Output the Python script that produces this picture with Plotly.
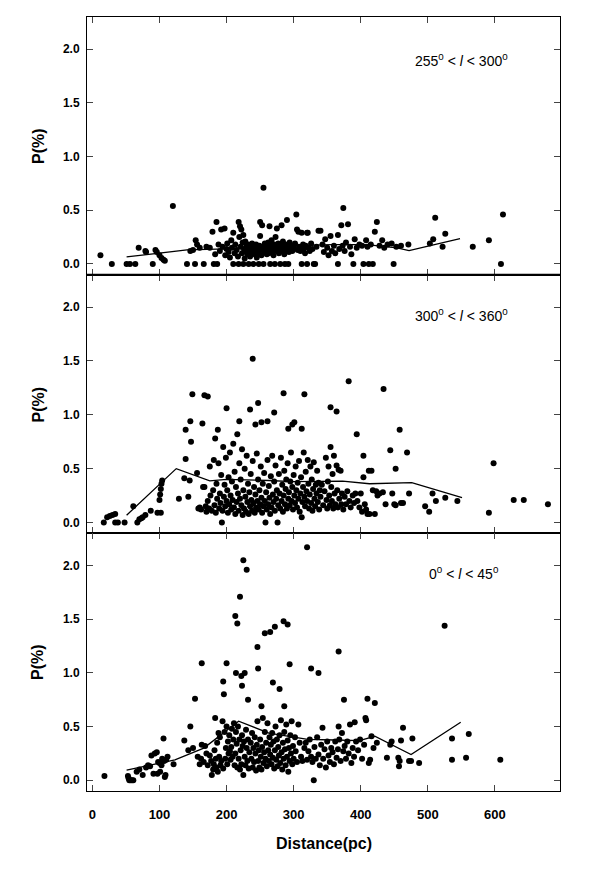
"""
Polarization vs distance in three longitude bins, stacked panels
"""
import plotly.graph_objects as go
from plotly.subplots import make_subplots

# --- data: (distance pc, P %) ---
pts_255_300 = [
    (12, 0.08), (29, 0), (51, 0), (56, 0), (64, 0), (69, 0.15), (79, 0.12), (80, 0.11), (90, 0), (94, 0.13),
    (96, 0.11), (100, 0.08), (103, 0.055), (106, 0.04), (108, 0.03), (120, 0.54), (141, 0), (146, 0.12), (150, 0.13), (153, 0),
    (154, 0.22), (156, 0.18), (160, 0.15), (166, 0), (170, 0.16), (175, 0.15), (179, 0.30), (181, 0), (183, 0.09), (185, 0.39),
    (186, 0), (188, 0.18), (190, 0.12), (192, 0.32), (194, 0.16), (197, 0.33), (198, 0.08), (200, 0.14), (201, 0.19), (203, 0.11),
    (205, 0.06), (207, 0.22), (208, 0.15), (210, 0.29), (210, 0), (212, 0.10), (213, 0.18), (215, 0.13), (217, 0.07), (218, 0.39),
    (218, 0), (219, 0.25), (220, 0.35), (221, 0.16), (222, 0.32), (223, 0.10), (224, 0.20), (225, 0.27), (225, 0), (226, 0.14),
    (227, 0.05), (228, 0.21), (229, 0.12), (230, 0.17), (231, 0.09), (232, 0.18), (233, 0), (234, 0.13), (235, 0.07), (236, 0.15),
    (237, 0.11), (238, 0.19), (239, 0.14), (240, 0), (241, 0.16), (242, 0.09), (243, 0.12), (244, 0.18), (245, 0.06), (246, 0.14),
    (247, 0.10), (248, 0), (249, 0.17), (250, 0.39), (250, 0.26), (251, 0.13), (252, 0.08), (253, 0.36), (254, 0.15), (255, 0),
    (255, 0.71), (256, 0.11), (257, 0.19), (258, 0.12), (259, 0.16), (260, 0.09), (261, 0.14), (262, 0.20), (263, 0.10), (264, 0.35),
    (265, 0), (265, 0.13), (266, 0.17), (267, 0.22), (268, 0.11), (269, 0.15), (270, 0.08), (271, 0.18), (272, 0), (272, 0.13),
    (273, 0.25), (274, 0.16), (275, 0.33), (276, 0.12), (277, 0.19), (278, 0.10), (279, 0.14), (280, 0), (281, 0.17), (282, 0.36),
    (283, 0.12), (284, 0.21), (285, 0.15), (286, 0.09), (287, 0), (288, 0.18), (289, 0.13), (290, 0.41), (291, 0.16), (292, 0),
    (293, 0.11), (294, 0.20), (295, 0.14), (296, 0.17), (298, 0.12), (300, 0.15), (302, 0.19), (304, 0.46), (305, 0.32), (306, 0.13),
    (307, 0.30), (308, 0.16), (310, 0.12), (312, 0.29), (312, 0), (314, 0.18), (315, 0.14), (317, 0.10), (318, 0.17), (320, 0.29),
    (320, 0), (321, 0.29), (322, 0.15), (324, 0.12), (326, 0.19), (328, 0.14), (330, 0), (332, 0), (334, 0.16), (337, 0.31),
    (340, 0.31), (343, 0.18), (345, 0.11), (347, 0.23), (350, 0.15), (352, 0.08), (355, 0.26), (357, 0.12), (360, 0.17), (362, 0.10),
    (366, 0.27), (366, 0), (368, 0.14), (371, 0.36), (373, 0.17), (374, 0.52), (376, 0.12), (378, 0.20), (381, 0.37), (384, 0.16),
    (386, 0.09), (389, 0), (391, 0.23), (394, 0.15), (398, 0.18), (402, 0.17), (404, 0), (408, 0.22), (410, 0.16), (412, 0),
    (415, 0.18), (418, 0), (421, 0.30), (424, 0.39), (428, 0.17), (432, 0.22), (435, 0.15), (440, 0.18), (446, 0.19), (449, 0),
    (453, 0.16), (460, 0.17), (471, 0.18), (503, 0.19), (508, 0.23), (511, 0.43), (522, 0.16), (526, 0.28), (567, 0.16), (591, 0.22),
    (609, 0), (612, 0.46),
]

pts_300_360 = [
    (17, 0), (22, 0.05), (26, 0.06), (30, 0.07), (34, 0.08), (34, 0), (38, 0), (48, 0), (61, 0.15), (67, 0),
    (70, 0.03), (73, 0.04), (75, 0.05), (79, 0.07), (87, 0.11), (97, 0.09), (102, 0.09), (100, 0.21), (101, 0.26), (102, 0.31),
    (103, 0.36), (104, 0.39), (129, 0.22), (137, 0.41), (139, 0.59), (139, 0.86), (143, 0.24), (145, 0.39), (146, 0.94), (147, 0.75),
    (149, 1.19), (156, 0.46), (158, 0.13), (160, 0.14), (162, 0.12), (164, 0.92), (165, 0.33), (167, 1.18), (167, 0.33), (169, 0.15),
    (170, 0.10), (172, 1.17), (172, 0.20), (174, 0.13), (175, 0.52), (176, 0.25), (178, 0.11), (180, 0.30), (181, 0.58), (182, 0.16),
    (183, 0.78), (184, 0.09), (185, 0.36), (186, 0.22), (187, 0.86), (188, 0.55), (189, 0.13), (190, 0.27), (191, 0.18), (192, 0.44),
    (193, 0), (194, 0.11), (195, 0.70), (196, 0.24), (197, 0.35), (198, 0.15), (199, 0.60), (200, 1.06), (200, 0.20), (201, 0.30),
    (202, 0.09), (203, 0.42), (204, 0.17), (205, 0.65), (206, 0.25), (207, 0.12), (208, 0.38), (209, 0.21), (210, 0.73), (211, 0.14),
    (212, 0.47), (213, 0.08), (214, 0.33), (215, 0.19), (216, 0.82), (217, 0.27), (218, 0.11), (219, 0.94), (219, 0.55), (220, 0.22),
    (221, 0.40), (222, 0.16), (223, 0.68), (224, 0.07), (225, 0.30), (226, 0.13), (227, 0.50), (228, 0.24), (229, 0.10), (230, 0.62),
    (231, 0.19), (232, 0.36), (233, 0.08), (234, 0.28), (235, 1.05), (235, 0.15), (236, 0.45), (237, 0.21), (238, 0.11), (239, 1.52),
    (239, 0.57), (240, 0.18), (241, 0.33), (242, 0.09), (243, 0.91), (243, 0.26), (244, 0.14), (245, 0.64), (246, 0.20), (247, 1.11),
    (247, 0.40), (248, 0.12), (249, 0.30), (250, 0.17), (251, 0.52), (252, 0.93), (252, 0.23), (253, 0.09), (254, 0.36), (255, 0.15),
    (256, 0.46), (257, 0.20), (258, 0), (259, 0.28), (260, 0.12), (261, 0.94), (261, 0.58), (262, 0.17), (263, 0.34), (264, 0.23),
    (265, 0.08), (266, 0.43), (267, 0.14), (268, 0.62), (269, 0.26), (270, 0.19), (271, 1.02), (271, 0.38), (272, 0.11), (273, 0.53),
    (274, 0.22), (275, 0.30), (276, 0), (277, 0.16), (278, 0.45), (279, 0.27), (280, 0.13), (281, 0.60), (282, 0.20), (283, 0.35),
    (284, 0.10), (285, 1.20), (285, 0.25), (286, 0.48), (287, 0.17), (288, 0.31), (289, 0.40), (290, 0.13), (291, 0.55), (292, 0.87),
    (292, 0.22), (293, 0.28), (294, 0.16), (295, 0.38), (296, 0.65), (297, 0.20), (298, 0.91), (298, 0.33), (299, 0.12), (300, 0.44),
    (301, 0.93), (301, 0.25), (302, 0.18), (303, 0.52), (304, 0.30), (305, 0.14), (306, 0.37), (307, 0.22), (308, 0.57), (309, 0.10),
    (310, 0.27), (311, 0.42), (312, 0.87), (312, 0.05), (313, 0.19), (314, 0.33), (315, 0.65), (316, 1.19), (316, 0.24), (317, 0.15),
    (318, 0.47), (319, 0.29), (320, 0.20), (321, 0.58), (322, 0.36), (323, 0.13), (324, 0.26), (325, 0.52), (326, 0.18), (327, 0.40),
    (328, 0.11), (329, 0.31), (330, 0.56), (331, 0.22), (332, 0.15), (333, 0.35), (334, 0.27), (335, 0.48), (336, 0.19), (337, 0.37),
    (338, 0.12), (339, 0.30), (340, 0.24), (342, 0.35), (344, 0.16), (346, 0.29), (348, 0.60), (349, 0.21), (350, 0.13), (351, 0.38),
    (352, 0.52), (353, 0.25), (354, 0.16), (355, 1.07), (355, 0.70), (356, 0.33), (357, 0.20), (358, 0.45), (359, 0.13), (360, 0.62),
    (361, 0.27), (362, 0.17), (364, 1.03), (364, 0.53), (365, 0.30), (366, 0.14), (367, 0.49), (368, 0.22), (370, 0.48), (371, 0.17),
    (372, 0.27), (374, 0.12), (376, 0.24), (378, 0.17), (380, 0.29), (382, 1.31), (383, 0.20), (385, 0.14), (388, 0.25), (390, 0.18),
    (392, 0.27), (394, 0.82), (395, 0.20), (398, 0.14), (400, 0.27), (402, 0.10), (404, 0.62), (404, 0.42), (406, 0.17), (408, 0.12),
    (410, 0.08), (412, 0.48), (413, 0.08), (416, 0.48), (418, 0.30), (421, 0.08), (423, 0.29), (425, 0.25), (428, 0.27), (433, 0.28),
    (434, 1.24), (437, 0.17), (444, 0.67), (447, 0.27), (450, 0.17), (452, 0.50), (452, 0.16), (458, 0.86), (460, 0.18), (463, 0.18),
    (469, 0.65), (472, 0.27), (496, 0.15), (502, 0.10), (507, 0.27), (512, 0.20), (526, 0.23), (544, 0.20), (591, 0.09), (598, 0.55),
    (628, 0.21), (643, 0.21), (679, 0.17),
]

pts_0_45 = [
    (18, 0.04), (53, 0.04), (54, 0.02), (55, 0), (57, 0), (59, 0), (61, 0), (66, 0.08), (70, 0.10), (75, 0.05),
    (80, 0.12), (83, 0.14), (86, 0.13), (88, 0.23), (91, 0.06), (93, 0.25), (96, 0.26), (97, 0.06), (98, 0.17), (100, 0.16),
    (101, 0.08), (103, 0.14), (104, 0.20), (106, 0.39), (107, 0.18), (108, 0.03), (109, 0.05), (110, 0.19), (112, 0.22), (121, 0.15),
    (137, 0.37), (143, 0.28), (146, 0.50), (150, 0.30), (153, 0.76), (157, 0.22), (160, 0.15), (162, 0.20), (163, 1.09), (163, 0.33),
    (166, 0.17), (168, 0.32), (170, 0.25), (172, 0.14), (175, 0.23), (177, 0.18), (178, 0.05), (180, 0.10), (181, 0.15), (182, 0.28),
    (183, 0.58), (184, 0.20), (185, 0.12), (186, 0.35), (187, 0.08), (188, 0.44), (189, 0.22), (190, 0.40), (191, 0.14), (192, 0.18),
    (194, 0.55), (195, 0.92), (195, 0.11), (196, 0.80), (197, 0.45), (198, 0.20), (199, 0.30), (200, 1.09), (200, 0.50), (201, 0.15),
    (202, 0.36), (203, 0.25), (204, 0.42), (205, 0.27), (206, 0.19), (207, 0.31), (208, 0.48), (209, 0.22), (210, 0.38), (211, 0.53),
    (212, 0.14), (213, 1.53), (213, 0.25), (214, 1.00), (214, 0.45), (215, 0.34), (216, 1.46), (216, 0.12), (217, 0.50), (218, 0.20),
    (219, 0.38), (220, 1.71), (220, 0.10), (221, 0.28), (222, 0.97), (222, 0.15), (223, 0.88), (223, 0.42), (224, 0.32), (225, 2.05),
    (225, 0.05), (226, 0.36), (227, 1.00), (227, 0.22), (228, 0.14), (229, 0.47), (230, 1.96), (230, 0.30), (231, 0.18), (232, 0.75),
    (232, 0.38), (233, 0.11), (234, 0.26), (236, 0.35), (237, 0.20), (238, 0.44), (239, 0.12), (240, 0.30), (241, 0.17), (242, 0.40),
    (243, 0.25), (244, 0.09), (245, 0.33), (246, 1.24), (246, 0.55), (247, 1.04), (247, 0.18), (248, 0.28), (249, 0.12), (250, 0.38),
    (251, 0.22), (252, 0.69), (252, 0.10), (253, 0.31), (254, 0.58), (255, 0.16), (256, 0.26), (257, 1.37), (257, 0.45), (258, 0.20),
    (259, 0.35), (260, 0.13), (261, 0.53), (262, 0.28), (263, 0.18), (264, 0.40), (265, 1.38), (265, 0.24), (266, 0.33), (267, 0.15),
    (268, 0.44), (269, 0.91), (269, 0.21), (270, 0.36), (271, 0.11), (272, 1.43), (272, 0.28), (273, 0.50), (274, 0.19), (275, 0.38),
    (276, 0.13), (277, 0.31), (278, 0.23), (279, 0.85), (279, 0.42), (280, 0.16), (281, 0.56), (282, 0.26), (283, 0.10), (284, 0.35),
    (285, 1.48), (285, 0.20), (286, 0.69), (286, 0.45), (287, 0.29), (288, 0.14), (289, 0.52), (290, 0.22), (291, 1.45), (291, 0.37),
    (292, 0.08), (293, 0.30), (294, 1.08), (294, 0.18), (295, 0.42), (296, 0.25), (297, 0.55), (298, 0.15), (299, 0.32), (300, 0.20),
    (302, 0.40), (303, 0.27), (305, 0.17), (307, 0.52), (309, 0.35), (311, 0.22), (313, 0.18), (316, 0.30), (318, 0.35), (320, 2.17),
    (320, 0.19), (322, 0.27), (324, 0.38), (326, 1.04), (326, 0.22), (328, 0.17), (330, 0), (331, 0.31), (333, 0.20), (335, 0.40),
    (337, 1.00), (337, 0.24), (339, 0.14), (341, 0.33), (343, 0.49), (344, 0.20), (346, 0.29), (348, 0.12), (350, 0.36), (352, 0.23),
    (354, 0.17), (356, 0.30), (358, 0.26), (360, 0.15), (362, 0.36), (364, 0.21), (366, 0.29), (367, 1.20), (367, 0.50), (368, 0.38),
    (370, 0.18), (372, 0.44), (374, 0.27), (375, 0.75), (376, 0.32), (378, 0.20), (380, 0.36), (382, 0.25), (384, 0.52), (386, 0.16),
    (388, 0.30), (390, 0.22), (391, 0.54), (393, 0.36), (396, 0.28), (399, 0.38), (402, 0.20), (405, 0.33), (407, 0.58), (408, 0.56),
    (410, 0.76), (412, 0.16), (414, 0.19), (416, 0.41), (419, 0.30), (421, 0.72), (424, 0.35), (439, 0.21), (444, 0.33), (446, 0.36),
    (456, 0.21), (457, 0.13), (458, 0.18), (460, 0.37), (463, 0.49), (472, 0.18), (475, 0.18), (477, 0.39), (487, 0.16), (525, 1.44),
    (536, 0.39), (536, 0.19), (557, 0.21), (561, 0.43), (608, 0.19),
]

# running mean curves
line_255_300_d = [51, 100, 141, 200, 250, 300, 359, 409, 454, 472, 548]
line_255_300_p = [0.065, 0.10, 0.13, 0.14, 0.16, 0.17, 0.18, 0.18, 0.15, 0.125, 0.235]
line_300_360_d = [51, 125, 175, 200, 263, 298, 373, 413, 476, 551]
line_300_360_p = [0.068, 0.50, 0.386, 0.40, 0.39, 0.38, 0.385, 0.36, 0.37, 0.23]
line_0_45_d = [51, 123, 166, 218, 263, 298, 321, 361, 398, 421, 475, 549]
line_0_45_p = [0.094, 0.19, 0.30, 0.55, 0.44, 0.40, 0.38, 0.375, 0.37, 0.41, 0.24, 0.54]

panel_labels = [
    "255<sup>0</sup> < <i>l</i> < 300<sup>0</sup>",
    "300<sup>0</sup> < <i>l</i> < 360<sup>0</sup>",
    "0<sup>0</sup> < <i>l</i> < 45<sup>0</sup>",
]
x_ticks = [0, 100, 200, 300, 400, 500, 600]
y_ticks = [0.0, 0.5, 1.0, 1.5, 2.0]

FONT = "Liberation Sans, Arial, sans-serif"

panels = [
    (pts_255_300, line_255_300_d, line_255_300_p),
    (pts_300_360, line_300_360_d, line_300_360_p),
    (pts_0_45, line_0_45_d, line_0_45_p),
]

fig = make_subplots(rows=3, cols=1, shared_xaxes=True, vertical_spacing=0)

for i, (pts, ld, lp) in enumerate(panels, start=1):
    fig.add_trace(go.Scatter(
        x=[p[0] for p in pts], y=[p[1] for p in pts],
        mode="markers",
        marker=dict(color="black", size=6),
        showlegend=False,
    ), row=i, col=1)
    fig.add_trace(go.Scatter(
        x=ld, y=lp, mode="lines",
        line=dict(color="black", width=1.3),
        showlegend=False,
    ), row=i, col=1)

# frame positions (page has an 8px body margin, so shift up/left by that)
x_dom = [0.1317, 0.920]
y_domains = [[0.6966, 0.990], [0.4024, 0.6966], [0.1092, 0.4024]]
for i in range(1, 4):
    fig.update_xaxes(
        range=[-8, 697], tickvals=x_ticks, ticks="inside", ticklen=6,
        showline=True, linecolor="black", linewidth=1, mirror="allticks",
        showgrid=False, zeroline=False, domain=x_dom,
        showticklabels=(i == 3),
        tickfont=dict(family=FONT, size=13, color="black", weight="bold"),
        ticklabelstandoff=11,
        row=i, col=1,
    )
    fig.update_yaxes(
        range=[-0.1, 2.3], tickvals=y_ticks, tickformat=".1f", ticks="inside", ticklen=6,
        showline=True, linecolor="black", linewidth=1, mirror="allticks",
        showgrid=False, zeroline=False, domain=y_domains[i - 1],
        tickfont=dict(family=FONT, size=12, color="black", weight="bold"),
        ticklabelstandoff=4,
        row=i, col=1,
    )

label_pos = [(0.755, 0.941), (0.755, 0.651), (0.760, 0.357)]
title_y = [0.843, 0.549, 0.256]
for (lx, ly), txt, ty in zip(label_pos, panel_labels, title_y):
    fig.add_annotation(text=txt, x=lx, y=ly, xref="paper", yref="paper",
                       xanchor="center", yanchor="middle", showarrow=False,
                       font=dict(family=FONT, size=14, color="black"))
    fig.add_annotation(text="P(%)", x=0.050, y=ty, xref="paper", yref="paper",
                       xanchor="center", yanchor="middle", textangle=-90, showarrow=False,
                       font=dict(family=FONT, size=16, color="black", weight="bold"))

fig.add_annotation(text="Distance(pc)", x=0.526, y=0.049, xref="paper", yref="paper",
                   xanchor="center", yanchor="middle", showarrow=False,
                   font=dict(family=FONT, size=16, color="black", weight="bold"))

# heavier separator between the first two panels
fig.add_shape(type="line", xref="paper", yref="paper", x0=x_dom[0], x1=x_dom[1],
              y0=0.6966, y1=0.6966, line=dict(color="black", width=2))

fig.update_layout(
    width=600, height=879,
    margin=dict(l=0, r=0, t=0, b=0),
    plot_bgcolor="white", paper_bgcolor="white",
    font=dict(family=FONT, color="black"),
)

fig.write_html("out.html")
